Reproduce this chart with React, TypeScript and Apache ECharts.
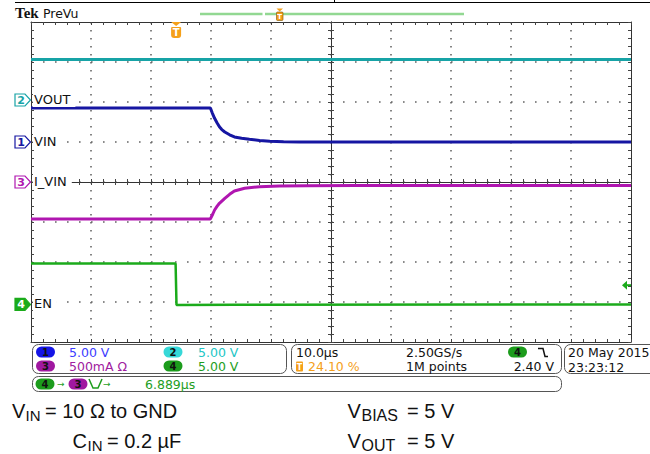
import React, { useEffect, useRef } from "react";
import * as echarts from "echarts";

// ---------- acquisition settings ----------
const TIME_PER_DIV_US = 10;
const X_DIVS = 10;
const Y_DIVS = 8;
const TRIGGER_POS_PCT = 24.1;
const RECORD_US = TIME_PER_DIV_US * X_DIVS;
const TRIGGER_US = (RECORD_US * TRIGGER_POS_PCT) / 100;

// channels: 1 = VIN, 2 = VOUT, 3 = I_VIN, 4 = EN
const CHANNEL_IDS = [1, 2, 3, 4];
const CHANNEL_NAMES = ["VIN", "VOUT", "I_VIN", "EN"];
const CHANNEL_SCALES = [5, 5, 500, 5]; // V/div, V/div, mA/div, V/div
const CHANNEL_OFFSETS = [1.0, 2.05, 0.0, -3.06]; // ground marker, divisions from centre
const CHANNEL_COLORS = ["#1616a2", "#17a3a6", "#b016b0", "#1bab1b"];
const PILL_COLORS = ["#1414e6", "#36d8d8", "#a018a0", "#1c9c1c"];
const SCALE_TEXT_COLORS = ["#3c3cff", "#22c6c6", "#a020a0", "#1e9e1e"];
const SCALE_LABELS = ["5.00 V", "5.00 V", "500mA \u03A9", "5.00 V"];

// ---------- waveforms: time from trigger (µs), value (V or mA) ----------
const vinTime = [-24.1, 5.8, 6.1, 6.5, 6.9, 7.3, 7.7, 8.2, 9.0, 9.8, 11.0, 12.3, 14.0, 15.7, 18.0, 20.7, 75.9];
const vinVolts = [4.25, 4.25, 3.65, 2.96, 2.4, 1.9, 1.55, 1.25, 0.9, 0.63, 0.46, 0.34, 0.2, 0.09, 0.03, 0.0, 0.0];

const voutTime = [-24.1, 75.9];
const voutVolts = [5.05, 5.05];

const ivinTime = [-24.1, 5.8, 6.2, 6.5, 6.9, 7.3, 8.2, 9.0, 9.8, 11.5, 14.0, 17.3, 22.0, 30.0, 75.9];
const ivinMilliamps = [-462, -462, -400, -350, -305, -266, -204, -154, -112, -79, -59, -50, -46, -44, -44];

const enTime = [-24.1, 0.0, 0.15, 10.0, 75.9];
const enVolts = [5.1, 5.1, -0.08, -0.05, 0.0];

const TRIGGER_LEVEL_V = 2.4;

// ---------- readouts ----------
const HORIZ_SCALE = "10.0\u00B5s";
const SAMPLE_RATE = "2.50GS/s";
const RECORD_LEN = "1M points";
const TRIG_POS_TEXT = "24.10 %";
const TRIG_LEVEL_TEXT = "2.40 V";
const DATE_TEXT = "20 May 2015";
const TIME_TEXT = "23:23:12";
const MEASURE_TEXT = "6.889\u00B5s";

// ---------- layout ----------
const GRID_LEFT = 31;
const GRID_TOP = 22;
const GRID_W = 600;
const GRID_H = 320;

const xPx = (tRel: number) => GRID_LEFT + ((tRel + TRIGGER_US) / RECORD_US) * GRID_W;
const yPx = (div: number) => GRID_TOP + (Y_DIVS / 2 - div) * (GRID_H / Y_DIVS);

const toSeries = (times: number[], values: number[], ch: number) =>
  times.map((t, i) => [t + TRIGGER_US, CHANNEL_OFFSETS[ch] + values[i] / CHANNEL_SCALES[ch]]);

const PANEL_FONT = '12.5px "DejaVu Sans"';
const ARIAL = '"Liberation Sans", Arial, sans-serif';

function txt(text: string, x: number, y: number, fill: string, font: string, align = "left", extra: any = {}) {
  return {
    type: "text",
    z: 110,
    style: { text, x, y, fill, font, align, verticalAlign: "middle", ...extra },
  };
}

function pill(cx: number, cy: number, color: string, digit: number) {
  return [
    { type: "rect", z: 105, shape: { x: cx - 9.5, y: cy - 5.5, width: 19, height: 11, r: 5.5 }, style: { fill: color } },
    txt(String(digit), cx, cy + 0.5, "#111", 'bold 10px "DejaVu Sans"', "center"),
  ];
}

function buildGraphics() {
  const g: any[] = [];
  // outer frame line of the screenshot
  g.push({ type: "line", z: 100, shape: { x1: 15, y1: 2.5, x2: 650, y2: 2.5 }, style: { stroke: "#000", lineWidth: 1 } });
  g.push({ type: "line", z: 100, shape: { x1: 334.5, y1: 0, x2: 334.5, y2: 2.5 }, style: { stroke: "#000", lineWidth: 1 } });
  // header
  g.push(txt("Tek", 15, 13, "#111", 'bold 15px "Liberation Serif"'));
  g.push(txt("PreVu", 43, 13, "#111", '12.5px "DejaVu Sans"'));
  // record view bar
  g.push({ type: "line", z: 100, shape: { x1: 200, y1: 14, x2: 262.5, y2: 14 }, style: { stroke: "#92d892", lineWidth: 2.5 } });
  g.push({ type: "line", z: 100, shape: { x1: 265, y1: 14, x2: 464, y2: 14 }, style: { stroke: "#92d892", lineWidth: 2.5 } });
  // small trigger marker in record bar
  g.push({ type: "polygon", z: 106, shape: { points: [[276.5, 8.5], [283, 8.5], [279.7, 11.5]] }, style: { fill: "#f5a01a" } });
  g.push({ type: "rect", z: 106, shape: { x: 276.5, y: 12, width: 6.5, height: 8.5, r: 1 }, style: { fill: "#f5a01a", stroke: "#7a5000", lineWidth: 0.6 } });
  g.push(txt("T", 279.75, 16.5, "#fff", 'bold 7px "DejaVu Sans"', "center"));

  // big trigger marker
  const tx = xPx(0) + 0.5;
  g.push({ type: "polygon", z: 106, shape: { points: [[tx - 5, GRID_TOP], [tx + 5, GRID_TOP], [tx, GRID_TOP + 4]] }, style: { fill: "#f5a01a" } });
  g.push({ type: "rect", z: 106, shape: { x: tx - 5, y: GRID_TOP + 5, width: 10, height: 11, r: [1, 1, 3, 3] }, style: { fill: "#f5a01a" } });
  g.push(txt("T", tx, GRID_TOP + 10.5, "#fff", 'bold 10px "DejaVu Sans"', "center"));

  // channel ground markers + labels
  CHANNEL_IDS.forEach((id, i) => {
    const gy = yPx(CHANNEL_OFFSETS[i]);
    const filled = id === 4;
    g.push({
      type: "polygon",
      z: 106,
      shape: { points: [[15, gy - 6], [25, gy - 6], [30.5, gy], [25, gy + 6], [15, gy + 6]] },
      style: { fill: filled ? CHANNEL_COLORS[i] : "#fff", stroke: CHANNEL_COLORS[i], lineWidth: 1.2 },
    });
    g.push(txt(String(id), 21, gy + 0.5, filled ? "#fff" : CHANNEL_COLORS[i], 'bold 11px "DejaVu Sans"', "center"));
    g.push(
      txt(CHANNEL_NAMES[i], 33, gy - 0.5, "#111", '13px "DejaVu Sans"', "left", {
        backgroundColor: "#fff",
        padding: [1, 5, 1, 1],
      })
    );
  });

  // trigger level arrow (channel 4)
  const ty = yPx(CHANNEL_OFFSETS[3] + TRIGGER_LEVEL_V / CHANNEL_SCALES[3]);
  g.push({ type: "polygon", z: 106, shape: { points: [[622, ty], [627, ty - 4.5], [627, ty + 4.5]] }, style: { fill: CHANNEL_COLORS[3] } });
  g.push({ type: "line", z: 106, shape: { x1: 626, y1: ty, x2: 631, y2: ty }, style: { stroke: CHANNEL_COLORS[3], lineWidth: 2 } });

  // readout boxes
  const box = (x: number, y: number, w: number, h: number) => ({
    type: "rect",
    z: 100,
    shape: { x, y, width: w, height: h, r: 6 },
    style: { fill: "none", stroke: "#555", lineWidth: 1 },
  });
  g.push(box(32.5, 344.5, 254, 29));
  g.push(box(291.5, 344.5, 270, 29));
  g.push(box(564.5, 344.5, 100, 29));
  g.push(box(32.5, 376.5, 529, 15));

  // vertical scales
  const pillX = [45.5, 173, 45.5, 173];
  const rowY = [352, 352, 366, 366];
  const textX = [69, 198, 69, 198];
  CHANNEL_IDS.forEach((id, i) => {
    g.push(...pill(pillX[i], rowY[i], PILL_COLORS[i], id));
    g.push(txt(SCALE_LABELS[i], textX[i], rowY[i] + 0.5, SCALE_TEXT_COLORS[i], PANEL_FONT));
  });

  // horizontal / trigger readouts
  g.push(txt(HORIZ_SCALE, 296, 352.5, "#111", PANEL_FONT));
  g.push(txt(SAMPLE_RATE, 406, 352.5, "#111", PANEL_FONT));
  g.push(...pill(517.5, 352, PILL_COLORS[3], 4));
  g.push({
    type: "polyline",
    z: 106,
    shape: { points: [[538, 348.5], [543, 348.5], [545, 356.5], [548, 356.5]] },
    style: { stroke: "#111", lineWidth: 1.5, fill: "none" },
  });
  g.push({ type: "rect", z: 105, shape: { x: 296, y: 361.5, width: 7, height: 10, r: 1 }, style: { fill: "#f5a01a" } });
  g.push(txt("T", 299.5, 367, "#fff", 'bold 8px "DejaVu Sans"', "center"));
  g.push(txt(TRIG_POS_TEXT, 308, 366.5, "#f5a01a", PANEL_FONT));
  g.push(txt(RECORD_LEN, 406, 366.5, "#111", PANEL_FONT));
  g.push(txt(TRIG_LEVEL_TEXT, 554, 366.5, "#111", PANEL_FONT, "right"));
  g.push(txt(DATE_TEXT, 568, 352.5, "#111", PANEL_FONT));
  g.push(txt(TIME_TEXT, 568, 367, "#111", PANEL_FONT));

  // measurement row
  g.push(...pill(45, 384, PILL_COLORS[3], 4));
  g.push(txt("\u2192", 57, 384, SCALE_TEXT_COLORS[3], '9px "DejaVu Sans"'));
  g.push(...pill(78, 384, PILL_COLORS[2], 3));
  g.push({
    type: "polyline",
    z: 106,
    shape: { points: [[89, 379], [93, 388], [98, 388], [102, 379]] },
    style: { stroke: SCALE_TEXT_COLORS[3], lineWidth: 1.5, fill: "none" },
  });
  g.push(txt("\u2192", 103, 384, SCALE_TEXT_COLORS[3], '9px "DejaVu Sans"'));
  g.push(txt(MEASURE_TEXT, 145, 384, SCALE_TEXT_COLORS[3], PANEL_FONT));

  // test-condition annotations
  const big = `20px ${ARIAL}`;
  const sub = `15px ${ARIAL}`;
  const sub16 = `16px ${ARIAL}`;
  g.push(txt("V", 12, 410.5, "#111", big));
  g.push(txt("IN", 25.5, 415.5, "#111", sub));
  g.push(txt("= 10 \u03A9 to GND", 45, 410.5, "#111", big));
  g.push(txt("C", 72.5, 440.5, "#111", big));
  g.push(txt("IN", 87.5, 445.5, "#111", sub));
  g.push(txt("= 0.2 \u00B5F", 107, 440.5, "#111", big));
  g.push(txt("V", 347.5, 410.5, "#111", big));
  g.push(txt("BIAS", 361.5, 415.5, "#111", sub16));
  g.push(txt("= 5 V", 407, 410.5, "#111", big));
  g.push(txt("V", 347.5, 440.5, "#111", big));
  g.push(txt("OUT", 361.5, 445.5, "#111", sub16));
  g.push(txt("= 5 V", 407, 440.5, "#111", big));
  return g;
}

function buildOption() {
  const dotted = (period: number) => ({
    show: true,
    showMinLine: false,
    showMaxLine: false,
    lineStyle: { color: "#666", width: 1.6, type: [1.6, period - 1.6] },
  });
  const frame = (extra: any) => ({
    type: "value",
    axisLabel: { show: false },
    axisLine: { show: true, onZero: false, lineStyle: { color: "#333", width: 1 } },
    axisTick: { show: true, inside: true, length: 3, lineStyle: { color: "#444" } },
    minorTick: { show: true, splitNumber: 5, length: 3, lineStyle: { color: "#444" } },
    splitLine: { show: false },
    ...extra,
  });
  const centre = (extra: any) => ({
    type: "value",
    axisLabel: { show: false },
    axisLine: { show: true, onZero: true, lineStyle: { color: "#333", width: 1 } },
    axisTick: { show: true, inside: false, length: 3, lineStyle: { color: "#444" } },
    minorTick: { show: true, splitNumber: 5, length: 3, lineStyle: { color: "#444" } },
    splitLine: { show: false },
    ...extra,
  });
  const half = RECORD_US / 2;
  const xr = { min: 0, max: RECORD_US, interval: TIME_PER_DIV_US };
  const xc = { min: -half, max: half, interval: TIME_PER_DIV_US };
  const yr = { min: -Y_DIVS / 2, max: Y_DIVS / 2, interval: 1 };

  const line = (name: string, data: number[][], color: string, width = 3) => ({
    name,
    type: "line",
    xAxisIndex: 0,
    yAxisIndex: 0,
    data,
    showSymbol: false,
    symbol: "none",
    lineStyle: { color, width },
    itemStyle: { color },
    z: 5,
  });

  return {
    animation: false,
    backgroundColor: "#fff",
    grid: [
      { left: GRID_LEFT, top: GRID_TOP, width: GRID_W, height: GRID_H },
      { left: GRID_LEFT, top: GRID_TOP, width: GRID_W, height: GRID_H },
    ],
    xAxis: [
      frame({ gridIndex: 0, position: "bottom", ...xr, splitLine: dotted(8) }),
      frame({ gridIndex: 0, position: "top", ...xr }),
      centre({ gridIndex: 1, position: "bottom", ...xc }),
      centre({ gridIndex: 1, position: "top", ...xc }),
    ],
    yAxis: [
      frame({ gridIndex: 0, position: "left", ...yr, splitLine: dotted(12) }),
      frame({ gridIndex: 0, position: "right", ...yr }),
      centre({ gridIndex: 1, position: "left", ...yr }),
      centre({ gridIndex: 1, position: "right", ...yr }),
    ],
    series: [
      line("VOUT", toSeries(voutTime, voutVolts, 1), CHANNEL_COLORS[1]),
      line("VIN", toSeries(vinTime, vinVolts, 0), CHANNEL_COLORS[0]),
      line("I_VIN", toSeries(ivinTime, ivinMilliamps, 2), CHANNEL_COLORS[2]),
      line("EN", toSeries(enTime, enVolts, 3), CHANNEL_COLORS[3], 2.5),
    ],
    graphic: { elements: buildGraphics() },
  };
}

export default function App() {
  const ref = useRef<HTMLDivElement>(null);
  useEffect(() => {
    const chart = echarts.init(ref.current as HTMLDivElement, null, { renderer: "svg" });
    chart.setOption(buildOption() as any);
    return () => chart.dispose();
  }, []);
  return (
    <div
      ref={ref}
      style={{ position: "absolute", left: 0, top: 0, width: 650, height: 454, background: "#fff" }}
    />
  );
}
